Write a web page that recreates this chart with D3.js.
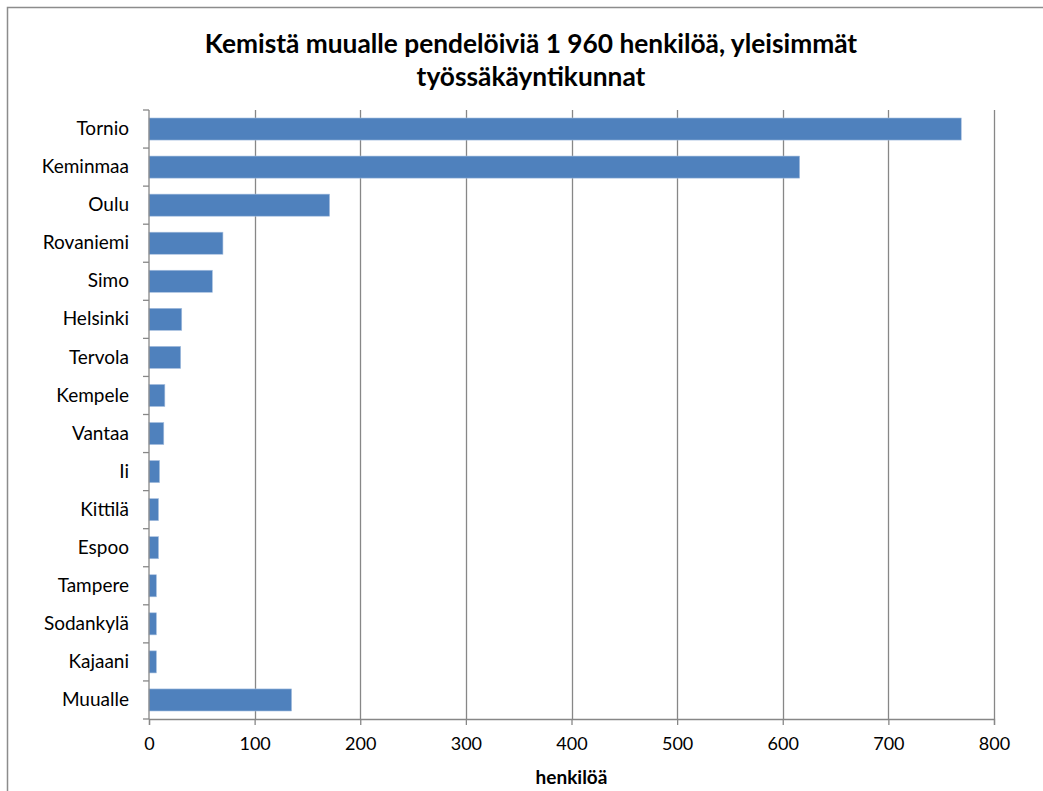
<!DOCTYPE html>
<html>
<head>
<meta charset="utf-8">
<script src="https://cdn.jsdelivr.net/npm/d3@7"></script>
<style>
  html, body { margin: 0; padding: 0; background: #fff; }
  svg { display: block; }
  text { font-family: Lato, "Open Sans", sans-serif; fill: #000; }
</style>
</head>
<body>
<svg id="chart" width="1043" height="791"></svg>
<script>
const categories = ["Tornio","Keminmaa","Oulu","Rovaniemi","Simo","Helsinki","Tervola","Kempele","Vantaa","Ii","Kittilä","Espoo","Tampere","Sodankylä","Kajaani","Muualle"];
const values = [769, 616, 171, 70, 60, 31, 30, 15, 14, 10, 9, 9, 7, 7, 7, 135];
const xTicks = [0, 100, 200, 300, 400, 500, 600, 700, 800];
const titleLines = ["Kemistä muualle pendelöiviä 1 960 henkilöä, yleisimmät", "työssäkäyntikunnat"];
const xTitle = "henkilöä";

const svg = d3.select("#chart");
const margin = {left: 149, right: 1043 - 994, top: 110, bottom: 791 - 719};
const W = 1043, H = 791;

// outer border
svg.append("rect").attr("x", 7.5).attr("y", 7.5).attr("width", 1060).attr("height", 820)
  .attr("fill", "none").attr("stroke", "#8c8c8c").attr("stroke-width", 1.5);

const x = d3.scaleLinear().domain([0, 800]).range([margin.left, W - margin.right]);
const y = d3.scaleBand().domain(categories).range([margin.top, H - margin.bottom]).paddingInner(0.42).paddingOuter(0.21);
const yb = d3.scaleBand().domain(categories).range([margin.top, H - margin.bottom]);

// gridlines
svg.append("g").selectAll("line").data(xTicks.filter(d => d > 0)).join("line")
  .attr("x1", d => Math.round(x(d)) + 0.5).attr("x2", d => Math.round(x(d)) + 0.5)
  .attr("y1", margin.top).attr("y2", H - margin.bottom)
  .attr("stroke", "#878787").attr("stroke-width", 1.3);

// bars
svg.append("g").selectAll("rect").data(categories).join("rect")
  .attr("x", x(0)).attr("y", d => y(d))
  .attr("width", (d, i) => x(values[i]) - x(0)).attr("height", y.bandwidth())
  .attr("fill", "#4f81bd").attr("stroke", "#a9c1e0").attr("stroke-width", 0.6);

// x axis
const xAxis = svg.append("g").attr("transform", `translate(0,${H - margin.bottom})`)
  .call(d3.axisBottom(x).tickValues(xTicks).tickSize(6).tickPadding(12).tickFormat(d3.format("d")));
xAxis.select(".domain").attr("stroke", "#878787").attr("stroke-width", 1.3);
xAxis.selectAll(".tick line").attr("stroke", "#878787").attr("stroke-width", 1.3);
xAxis.selectAll("text").attr("font-size", 18).attr("font-family", "Lato, sans-serif").attr("fill", "#000");

// y axis
const yAxis = svg.append("g").attr("transform", `translate(${margin.left},0)`)
  .call(d3.axisLeft(yb).tickSize(0).tickPadding(20));
yAxis.select(".domain").remove();
yAxis.selectAll("text").attr("font-size", 19).attr("font-family", "Lato, sans-serif").attr("fill", "#000");
// boundary ticks on y axis
const bounds = categories.map(c => yb(c)).concat([H - margin.bottom]);
svg.append("g").selectAll("line").data(bounds).join("line")
  .attr("x1", margin.left - 6).attr("x2", margin.left)
  .attr("y1", d => d).attr("y2", d => d)
  .attr("stroke", "#878787").attr("stroke-width", 1.3);
svg.append("line").attr("x1", margin.left).attr("x2", margin.left)
  .attr("y1", margin.top).attr("y2", H - margin.bottom)
  .attr("stroke", "#878787").attr("stroke-width", 1.3);

// title
const t = svg.append("text").attr("text-anchor", "middle").attr("font-weight", "bold").attr("font-size", 26.3);
titleLines.forEach((l, i) => t.append("tspan").attr("x", 531).attr("y", 53 + i * 33).text(l));

// x title
svg.append("text").attr("x", (x(0) + x(800)) / 2).attr("y", 784).attr("text-anchor", "middle")
  .attr("font-weight", "bold").attr("font-size", 19).text(xTitle);
</script>
</body>
</html>
